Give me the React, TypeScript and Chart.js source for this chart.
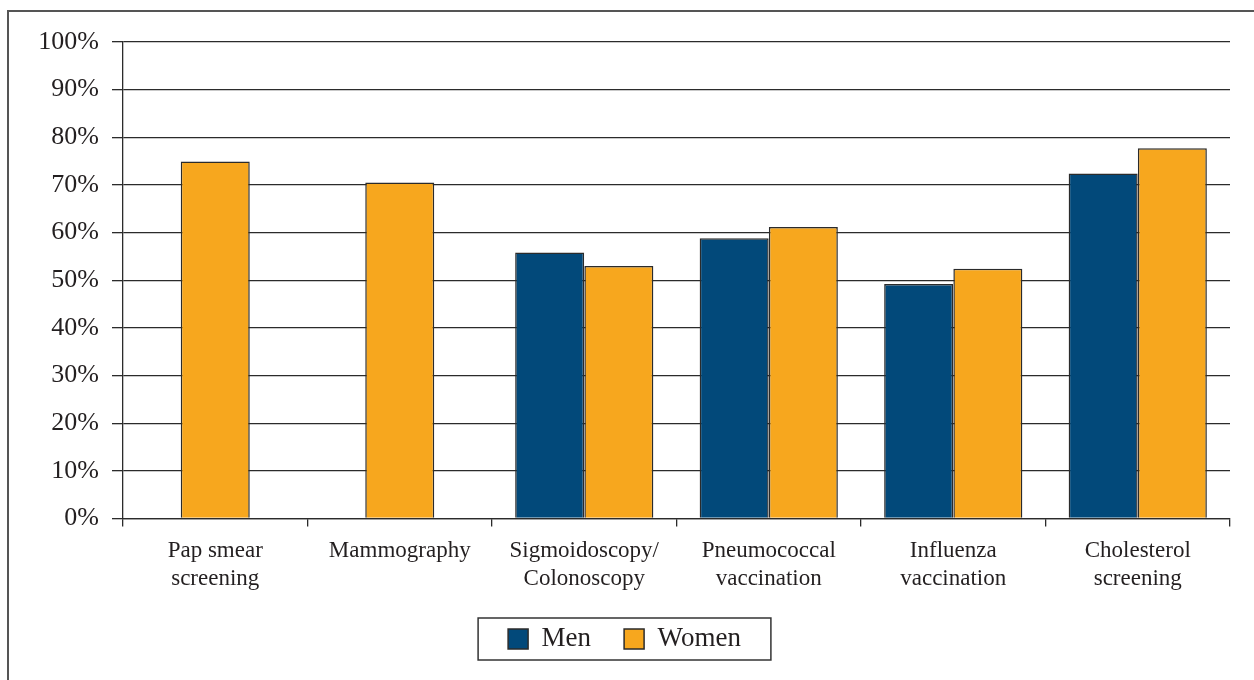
import React, { useEffect, useRef } from "react";
import { Chart, registerables } from "chart.js";

Chart.register(...registerables);

const categories: string[][] = [
  ["Pap smear", "screening"],
  ["Mammography"],
  ["Sigmoidoscopy/", "Colonoscopy"],
  ["Pneumococcal", "vaccination"],
  ["Influenza", "vaccination"],
  ["Cholesterol", "screening"],
];
const menValues: (number | null)[] = [null, null, 55.8, 58.8, 49.2, 72.4];
const womenValues: (number | null)[] = [74.9, 70.5, 53.0, 61.2, 52.4, 77.7];
const seriesNames = ["Men", "Women"];
const yMin = 0;
const yMax = 100;
const yStep = 10;

const MEN_COLOR = "#02497A";
const WOMEN_COLOR = "#F7A71E";
const EDGE = "#2b2b2b";
const TEXT = "#231F20";
const FONT = "'Liberation Serif', 'Times New Roman', serif";

const legendBoxPlugin = {
  id: "legendBox",
  afterDraw(chart: any) {
    const lg = chart.legend;
    if (!lg || !lg.legendHitBoxes || !lg.legendHitBoxes.length) return;
    const boxes = lg.legendHitBoxes;
    let minL = Infinity, maxR = -Infinity, cy = 0;
    boxes.forEach((b: any) => {
      minL = Math.min(minL, b.left);
      maxR = Math.max(maxR, b.left + b.width);
      cy = b.top + b.height / 2;
    });
    const ctx = chart.ctx;
    ctx.save();
    ctx.strokeStyle = "#333";
    ctx.lineWidth = 1.5;
    ctx.strokeRect(minL - 30, cy - 21, maxR - minL + 60, 42);
    ctx.restore();
  },
};

export default function App() {
  const ref = useRef<HTMLCanvasElement | null>(null);
  useEffect(() => {
    if (!ref.current) return;
    Chart.defaults.font.family = FONT;
    Chart.defaults.color = TEXT;
    const chart = new Chart(ref.current, {
      type: "bar",
      data: {
        labels: categories,
        datasets: [
          {
            label: seriesNames[0],
            data: menValues,
            backgroundColor: MEN_COLOR,
            borderColor: EDGE,
            borderWidth: 1.5,
          },
          {
            label: seriesNames[1],
            data: womenValues,
            backgroundColor: WOMEN_COLOR,
            borderColor: EDGE,
            borderWidth: 1.5,
          },
        ],
      },
      options: {
        responsive: false,
        animation: false,
        skipNull: true,
        categoryPercentage: 0.75,
        barPercentage: 1,
        maxBarThickness: 69,
        layout: { padding: { top: 30, left: 10, right: 24, bottom: 9.5 } },
        plugins: {
          tooltip: { enabled: false },
          legend: {
            position: "bottom",
            labels: {
              boxWidth: 20,
              boxHeight: 20,
              padding: 33,
              color: TEXT,
              font: { size: 27, family: FONT },
            },
          },
        },
        scales: {
          x: {
            grid: {
              display: true,
              drawOnChartArea: false,
              drawTicks: true,
              tickLength: 8,
              color: EDGE,
              lineWidth: 1.3,
              offset: true,
            },
            border: { display: true, color: EDGE, width: 1.3 },
            ticks: {
              color: TEXT,
              padding: 11,
              maxRotation: 0,
              autoSkip: false,
              font: { size: 23, family: FONT, lineHeight: 1.2 },
            },
            afterFit(scale: any) {
              scale.height = 74;
            },
          },
          y: {
            min: yMin,
            max: yMax,
            ticks: {
              stepSize: yStep,
              color: TEXT,
              padding: 13,
              font: { size: 26, family: FONT },
              callback: (v: any) => v + "%",
            },
            grid: {
              color: EDGE,
              lineWidth: 1.3,
              tickLength: 11,
            },
            border: { display: true, color: EDGE, width: 1.3 },
            afterFit(scale: any) {
              scale.width = 104;
            },
          },
        },
      },
      plugins: [legendBoxPlugin],
    } as any);
    return () => chart.destroy();
  }, []);

  return (
    <div
      style={{
        position: "fixed",
        left: 7,
        top: 10,
        width: 1247,
        height: 670,
        borderTop: "2px solid #555",
        borderLeft: "2px solid #555",
        background: "#fff",
        overflow: "hidden",
      }}
    >
      <canvas ref={ref} width={1245} height={660} style={{ display: "block" }} />
    </div>
  );
}
